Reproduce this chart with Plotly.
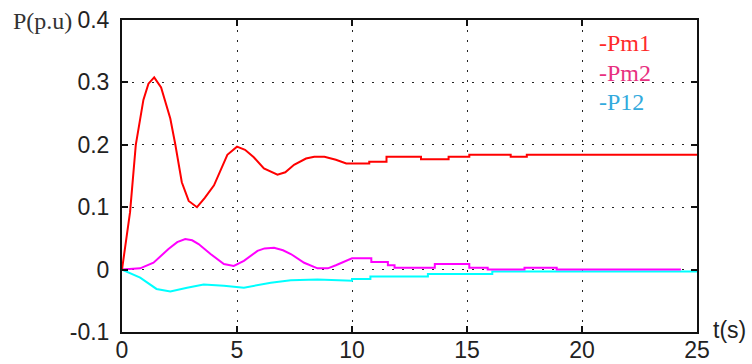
import plotly.graph_objects as go

# ---- data ----
t_pm1 = [0, 0.35, 0.6, 0.79, 0.93, 1.15, 1.4, 1.7, 2.1, 2.32, 2.6, 2.9, 3.26, 3.6, 4.0, 4.58, 5.0, 5.35,
         5.73, 6.17, 6.76, 7.1, 7.48, 8.0, 8.36, 8.8, 9.3, 9.75, 10.75, 10.75, 11.5, 11.5, 13.0, 13.0,
         14.2, 14.2, 15.1, 15.1, 16.9, 16.9, 17.6, 17.6, 25]
p_pm1 = [0, 0.092, 0.2, 0.242, 0.272, 0.298, 0.308, 0.292, 0.242, 0.2, 0.14, 0.11, 0.1, 0.115, 0.135,
         0.184, 0.197, 0.192, 0.18, 0.162, 0.152, 0.156, 0.168, 0.178, 0.181, 0.181, 0.176, 0.17, 0.17,
         0.173, 0.173, 0.181, 0.181, 0.177, 0.177, 0.181, 0.181, 0.184, 0.184, 0.181, 0.181, 0.184, 0.184]

t_pm2 = [0, 0.79, 1.37, 2.02, 2.4, 2.75, 3.05, 3.33, 3.85, 4.43, 4.86, 5.3, 5.89, 6.2, 6.61, 7.0, 7.34,
         7.92, 8.5, 8.95, 9.3, 9.67, 10.0, 10.84, 10.84, 11.56, 11.56, 11.85, 11.85, 13.6, 13.6, 15.1,
         15.1, 15.9, 15.9, 17.5, 17.5, 18.9, 18.9, 24.3]
p_pm2 = [0, 0.002, 0.011, 0.033, 0.044, 0.049, 0.047, 0.041, 0.025, 0.009, 0.006, 0.014, 0.030, 0.034,
         0.035, 0.031, 0.025, 0.011, 0.002, 0.002, 0.007, 0.013, 0.018, 0.018, 0.012, 0.012, 0.007,
         0.007, 0.003, 0.003, 0.009, 0.009, 0.003, 0.003, 0.0, 0.0, 0.003, 0.003, 0.0, 0.0]

t_p12 = [0, 0.79, 1.5, 2.1, 2.83, 3.55, 4.43, 5.3, 6.47, 7.34, 8.5, 9.5, 10.0, 10.0, 10.8, 10.8, 13.3,
         13.3, 16.1, 16.1, 25]
p_p12 = [0, -0.013, -0.031, -0.035, -0.029, -0.024, -0.026, -0.029, -0.021, -0.017, -0.016, -0.018,
         -0.018, -0.015, -0.015, -0.011, -0.011, -0.007, -0.007, -0.003, -0.003]

x_ticks = [0, 5, 10, 15, 20, 25]
x_tick_labels = ["0", "5", "10", "15", "20", "25"]
y_ticks = [-0.1, 0, 0.1, 0.2, 0.3, 0.4]
y_tick_labels = ["-0.1", "0", "0.1", "0.2", "0.3", "0.4"]

legend_names = ["-Pm1", "-Pm2", "-P12"]
legend_y = [0.363, 0.3145, 0.268]
legend_colors = ["#ff2a2a", "#e8307f", "#33aadd"]

TICKFONT = dict(family="Liberation Sans Narrow, Arial Narrow, Liberation Sans, Arial", size=23, color="#222")

fig = go.Figure()
fig.add_trace(go.Scatter(x=t_p12, y=p_p12, mode="lines", line=dict(color="#00ffff", width=2)))
fig.add_trace(go.Scatter(x=t_pm2, y=p_pm2, mode="lines", line=dict(color="#ff00ff", width=2)))
fig.add_trace(go.Scatter(x=t_pm1, y=p_pm1, mode="lines", line=dict(color="#ff0000", width=2)))

for name, yv, col in zip(legend_names, legend_y, legend_colors):
    fig.add_annotation(x=20.65, y=yv, xref="x", yref="y", text=name, showarrow=False,
                       xanchor="left", yanchor="middle",
                       font=dict(family="Liberation Serif, Times New Roman, serif", size=24, color=col))

fig.add_annotation(x=-0.139, y=0.997, xref="paper", yref="paper", text="P(p.u)", showarrow=False,
                   xanchor="center", yanchor="middle",
                   font=dict(family="Liberation Serif, Times New Roman, serif", size=24, color="#333"))
fig.add_annotation(x=1.057, y=0.006, xref="paper", yref="paper", text="t(s)", showarrow=False,
                   xanchor="center", yanchor="middle", font=TICKFONT)

axis_common = dict(showline=True, linecolor="#111", linewidth=2, mirror="ticks",
                   ticks="inside", ticklen=6, tickwidth=1.5, tickcolor="#111",
                   showgrid=True, gridcolor="#222", gridwidth=1, griddash="2px,8px",
                   zeroline=False, tickfont=TICKFONT, automargin=False)

fig.update_layout(
    width=752, height=364,
    margin=dict(l=122, r=55, t=20, b=32, autoexpand=False),
    paper_bgcolor="white", plot_bgcolor="white",
    showlegend=False,
    xaxis=dict(range=[0, 25], tickvals=x_ticks, ticktext=x_tick_labels, ticklabelstandoff=-4,
               **axis_common),
    yaxis=dict(range=[-0.1, 0.4], tickvals=y_ticks, ticktext=y_tick_labels, ticklabelstandoff=6,
               **axis_common),
)

fig.write_html("out.html")
